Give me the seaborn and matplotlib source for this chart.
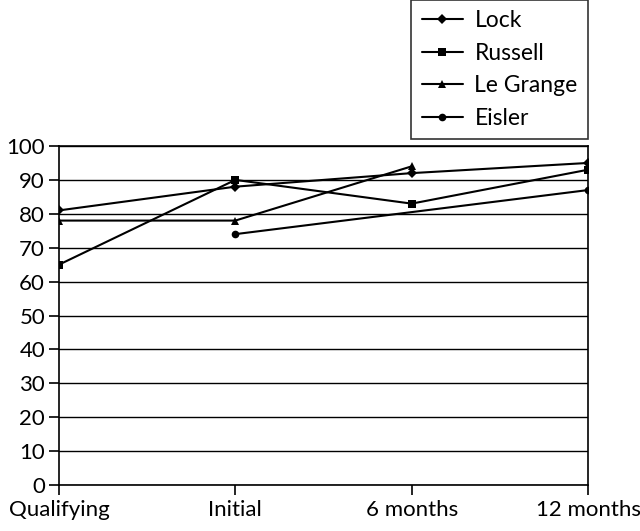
import numpy as np
import pandas as pd
import matplotlib
matplotlib.use("Agg")
import matplotlib.pyplot as plt
import seaborn as sns

categories = ["Qualifying", "Initial", "6 months", "12 months"]
lock = [81, 88, 92, 95]
russell = [65, 90, 83, 93]
le_grange = [78, 78, 94, np.nan]
eisler = [np.nan, 74, np.nan, 87]
series_names = ["Lock", "Russell", "Le Grange", "Eisler"]
y_ticks = list(range(0, 101, 10))

sns.set_theme(style="white")
plt.rcParams['font.family'] = ['Lato', 'DejaVu Sans']
plt.rcParams['text.color'] = 'black'

rows = []
for name, vals in zip(series_names, [lock, russell, le_grange, eisler]):
    for i, v in enumerate(vals):
        rows.append({"series": name, "pos": i, "value": v})
df = pd.DataFrame(rows).dropna()

fig = plt.figure(figsize=(6.4, 5.31), dpi=100)
ax = fig.add_axes([59/640, 1-485/531, (588-59)/640, (485-146)/531])

markers = {"Lock": "D", "Russell": "s", "Le Grange": "^", "Eisler": "o"}
sizes = {"Lock": 7, "Russell": 7.5, "Le Grange": 7.5, "Eisler": 7.5}

for name in series_names:
    sub = df[df["series"] == name]
    sns.lineplot(data=sub, x="pos", y="value", ax=ax, color="black",
                 marker=markers[name], markersize=sizes[name], linewidth=1.5,
                 markeredgewidth=0, label=name, legend=False)

ax.set_xlim(0, 3)
ax.set_ylim(0, 100)
ax.set_yticks(y_ticks)
ax.set_xticks(range(len(categories)))
ax.set_xticklabels(categories)
ax.set_xlabel("")
ax.set_ylabel("")
ax.yaxis.grid(True, color="black", linewidth=1.0)
ax.set_axisbelow(True)
for s in ax.spines.values():
    s.set_color("black")
    s.set_linewidth(1.2)
ax.tick_params(axis="both", which="both", direction="out", length=7, width=1.2,
               color="black", labelsize=16, labelcolor="black",
               left=True, bottom=True)
ax.tick_params(axis="x", pad=4)
ax.tick_params(axis="y", pad=3)

handles, labels = ax.get_legend_handles_labels()
for h in handles:
    h.set_markersize(5.5)
leg = fig.legend(handles, labels, loc="upper right",
                 bbox_to_anchor=(588/640, 1.0), bbox_transform=fig.transFigure,
                 frameon=True, fancybox=False, fontsize=16.5, handlelength=1.8,
                 labelspacing=0.5, borderpad=0.45, borderaxespad=0,
                 handletextpad=0.5)
leg.get_frame().set_edgecolor("black")
leg.get_frame().set_linewidth(1.2)
for t in leg.get_texts():
    t.set_color("black")

fig.savefig("out.png", dpi=100)
